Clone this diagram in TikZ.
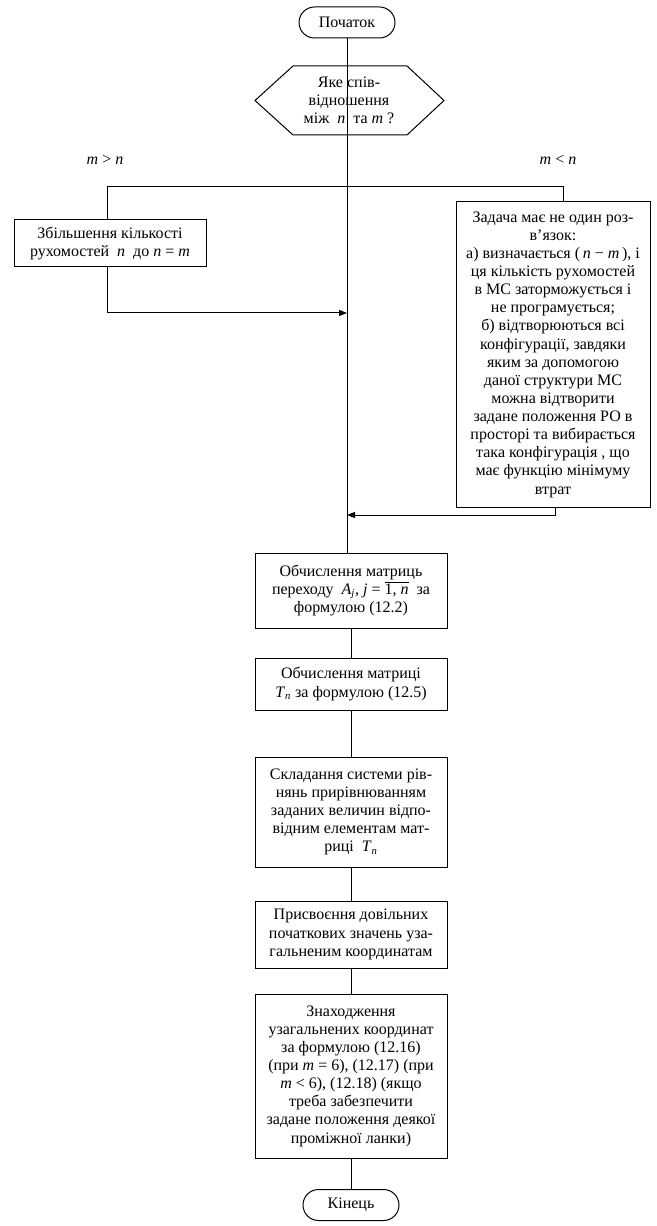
\documentclass[tikz,border=0pt]{standalone}
\usepackage{fontspec}
\setmainfont{Liberation Serif}
\usetikzlibrary{arrows.meta,shapes.misc}
\newcommand{\vi}[1]{\textit{#1}}
\begin{document}
\begin{tikzpicture}[x=0.75pt,y=-0.75pt,
  every node/.style={font=\fontsize{12}{13.6}\selectfont},
  ln/.style={line width=0.75pt},
  arr/.style={ln,-{Triangle[length=6pt,width=4.5pt]}},
  term/.style={draw,line width=0.75pt,rounded rectangle,minimum width=72pt,minimum height=23.25pt,inner sep=0pt},
  proc/.style={draw,line width=0.75pt,rectangle,align=center,inner sep=0pt},
  lbl/.style={inner sep=0pt}]
\useasboundingbox (0,0) rectangle (656,1226);
% start
\node[term] (start) at (347,22.5) {Початок};
% hexagon decision
\draw[ln] (293,66) -- (407,66) -- (444,100.5) -- (407,135) -- (293,135) -- (255,100.5) -- cycle;
\node[lbl,align=center,minimum width=114pt,minimum height=51.75pt] (hex) at (349,100.5)
  {Яке спів-\\відношення\\між \ \vi{n} \ та \vi{m} ?};
% branch labels
\node[lbl] (lgt) at (105,160) {\vi{m} > \vi{n}};
\node[lbl] (llt) at (558,160) {\vi{m} < \vi{n}};
% left and right boxes
\node[proc,minimum width=144pt,minimum height=35.25pt] (lbox) at (110,243.5)
  {Збільшення кількості\\рухомостей \ \vi{n} \ до \vi{n} = \vi{m}};
\node[proc,minimum width=145.5pt,minimum height=228.75pt] (rbox) at (553,354.5)
  {Задача має не один роз-\\в’язок:\\а) визначається (\,\vi{n} − \vi{m}\,), і\\ця кількість рухомостей\\в МС заторможується і\\не програмується;\\б) відтворюються всі\\конфігурації, завдяки\\яким за допомогою\\даної структури МС\\можна відтворити\\задане положення РО в\\просторі та вибирається\\така конфігурація , що\\має функцію мінімуму\\втрат};
% main column
\node[proc,minimum width=144pt,minimum height=56.25pt] (b1) at (351,590.5)
  {Обчислення матриць\\переходу \ \vi{A}\textsubscript{\vi{j}}, \vi{j} = $\overline{\mbox{1, \vi{n}}}$ \ за\\формулою (12.2)};
\node[proc,minimum width=144pt,minimum height=39pt] (b2) at (351,684)
  {Обчислення матриці\\\vi{T}\textsubscript{\vi{n}} за формулою (12.5)};
\node[proc,minimum width=144pt,minimum height=82.5pt] (b3) at (351,812)
  {Складання системи рів-\\нянь прирівнюванням\\заданих величин відпо-\\відним елементам мат-\\риці \ \vi{T}\textsubscript{\vi{n}}};
\node[proc,minimum width=144pt,minimum height=50.25pt] (b4) at (351,934.5)
  {Присвоєння довільних\\початкових значень уза-\\гальненим координатам};
\node[proc,minimum width=144pt,minimum height=123pt] (b5) at (351,1076)
  {Знаходження\\узагальнених координат\\за формулою (12.16)\\(при \vi{m} = 6), (12.17) (при\\\vi{m} < 6), (12.18) (якщо\\треба забезпечити\\задане положення деякої\\проміжної ланки)};
\node[term] (end) at (351,1205) {Кінець};
% junction coordinates
\coordinate (brL) at (107,187);
\coordinate (brR) at (563,187);
\coordinate (j1) at (347,313);
\coordinate (j2) at (347,515);
\coordinate (mainTop) at (347,135);
\coordinate (mainBot) at (347,553);
% connectors
\draw[ln] (start.south) -- (mainTop);
\draw[ln] (mainTop) -- (mainBot);
\draw[ln] (lbox.north -| brL) -- (brL) -- (brR) -- (rbox.north -| brR);
\draw[arr] (lbox.south -| brL) |- (j1);
\draw[arr] ([xshift=1.5pt]rbox.south) |- (j2);
\draw[ln] (b1.south) -- (b2.north);
\draw[ln] (b2.south) -- (b3.north);
\draw[ln] (b3.south) -- (b4.north);
\draw[ln] (b4.south) -- (b5.north);
\draw[ln] (b5.south) -- (end.north);
\end{tikzpicture}
\end{document}
